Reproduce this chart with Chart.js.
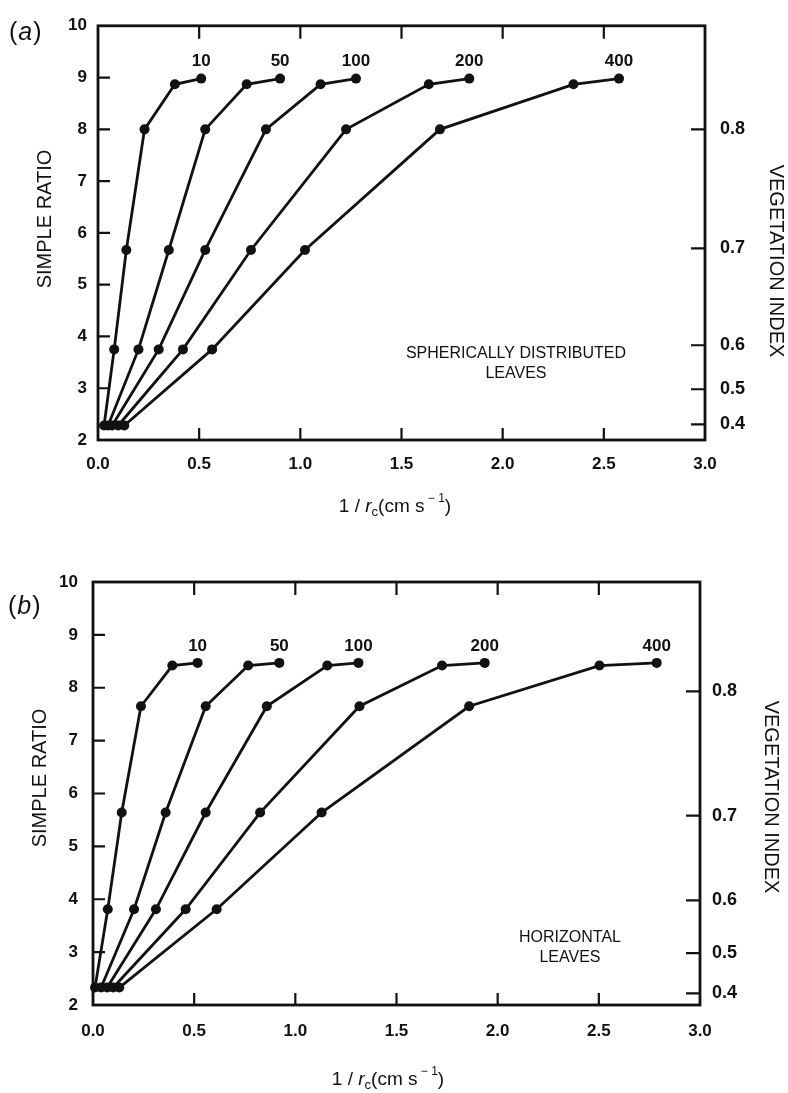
<!DOCTYPE html>
<html lang="en">
<head>
<meta charset="UTF-8" />
<title>Simple ratio vs 1/rc</title>
<script src="https://cdn.jsdelivr.net/npm/chart.js@4"></script>
<style>
  body { margin: 0; background: #fff; width: 788px; height: 1093px; position: relative; overflow: hidden; }
  canvas { position: absolute; left: 0; }
  #panelA { top: 0; }
  #panelB { top: 540px; }
</style>
</head>
<body>
<canvas id="panelA" width="788" height="540"></canvas>
<canvas id="panelB" width="788" height="553"></canvas>
<script>
// ---- data ----
const seriesNames = ['10', '50', '100', '200', '400'];
const xTicks = [0, 0.5, 1.0, 1.5, 2.0, 2.5, 3.0];
const srTicks = [2, 3, 4, 5, 6, 7, 8, 9, 10];
const viLabels = ['0.4', '0.5', '0.6', '0.7', '0.8'];
const viPosA = [2.30, 2.98, 3.83, 5.70, 8.0];   // where the VI ticks sit on the SR scale
const viPosB = [2.22, 2.98, 3.98, 5.58, 7.93];

// (a) spherically distributed leaves
const sphY   = [2.28, 3.75, 5.67, 8.0, 8.87, 8.98];
const sph10  = [0.03, 0.08, 0.14, 0.23, 0.38, 0.51];
const sph50  = [0.05, 0.20, 0.35, 0.53, 0.735, 0.90];
const sph100 = [0.07, 0.30, 0.53, 0.83, 1.10, 1.275];
const sph200 = [0.10, 0.42, 0.756, 1.226, 1.635, 1.835];
const sph400 = [0.13, 0.564, 1.023, 1.69, 2.35, 2.575];

// (b) horizontal leaves
const horY   = [2.33, 3.81, 5.64, 7.65, 8.42, 8.47];
const hor10  = [0.01, 0.073, 0.142, 0.237, 0.392, 0.517];
const hor50  = [0.04, 0.203, 0.359, 0.557, 0.767, 0.921];
const hor100 = [0.07, 0.311, 0.557, 0.859, 1.158, 1.312];
const hor200 = [0.10, 0.458, 0.826, 1.317, 1.725, 1.936];
const hor400 = [0.13, 0.611, 1.130, 1.859, 2.503, 2.786];

const ink = '#111';
const FONT = "'Liberation Sans', Arial, Helvetica, sans-serif";

// draws frame, inward ticks, curve labels, titles
const decor = {
  id: 'decor',
  afterDraw(chart, args, o) {
    const ctx = chart.ctx, ca = chart.chartArea;
    const sx = chart.scales.x, sy = chart.scales.y, sv = chart.scales.vi;
    ctx.save();
    ctx.strokeStyle = ink;
    ctx.fillStyle = ink;
    ctx.lineWidth = 2.8;
    ctx.strokeRect(ca.left, ca.top, ca.width, ca.height);

    ctx.lineWidth = 2.2;
    ctx.beginPath();
    xTicks.slice(1, -1).forEach(v => {
      const px = sx.getPixelForValue(v);
      ctx.moveTo(px, ca.bottom); ctx.lineTo(px, ca.bottom - 12);
      ctx.moveTo(px, ca.top); ctx.lineTo(px, ca.top + 13);
    });
    srTicks.slice(1, -1).forEach(v => {
      const py = sy.getPixelForValue(v);
      ctx.moveTo(ca.left, py); ctx.lineTo(ca.left + 12, py);
    });
    o.viPos.forEach(v => {
      const py = sv.getPixelForValue(v);
      ctx.moveTo(ca.right, py); ctx.lineTo(ca.right - 14, py);
    });
    ctx.stroke();

    // curve labels above last point
    ctx.font = 'bold 17px ' + FONT;
    ctx.textAlign = 'center';
    ctx.textBaseline = 'middle';
    chart.data.datasets.forEach((ds, i) => {
      const pts = chart.getDatasetMeta(i).data;
      const p = pts[pts.length - 1];
      ctx.fillText(ds.label, p.x, p.y - 17);
    });

    // annotation
    ctx.font = '16px ' + FONT;
    o.note.forEach((t, i) => ctx.fillText(t, o.noteX, o.noteY + i * 20));

    // axis titles
    ctx.font = '20px ' + FONT;
    ctx.save();
    ctx.translate(o.srX, o.srY); ctx.rotate(-Math.PI / 2);
    ctx.fillText('SIMPLE RATIO', 0, 0);
    ctx.restore();
    ctx.save();
    ctx.translate(o.viX, o.viY); ctx.rotate(Math.PI / 2);
    ctx.fillText('VEGETATION INDEX', 0, 0);
    ctx.restore();

    // 1/r_c (cm s^-1)
    const parts = [
      { t: '1 / ', f: '19px ', dy: 0 },
      { t: 'r', f: 'italic 19px ', dy: 0 },
      { t: 'c', f: '13px ', dy: 5 },
      { t: '(cm s', f: '19px ', dy: 0 },
      { t: ' \u2212 1', f: '12px ', dy: -8 },
      { t: ')', f: '19px ', dy: 0 }
    ];
    let w = 0;
    parts.forEach(p => { ctx.font = p.f + FONT; w += ctx.measureText(p.t).width; });
    let x = o.xtX - w / 2;
    ctx.textAlign = 'left';
    parts.forEach(p => {
      ctx.font = p.f + FONT;
      ctx.fillText(p.t, x, o.xtY + p.dy);
      x += ctx.measureText(p.t).width;
    });

    // panel tag
    ctx.font = '25px ' + FONT;
    let tx = o.tagX;
    ctx.fillText('(', tx, o.tagY); tx += ctx.measureText('(').width + 1;
    ctx.font = 'italic 25px ' + FONT;
    ctx.fillText(o.tag, tx, o.tagY); tx += ctx.measureText(o.tag).width + 1;
    ctx.font = '25px ' + FONT;
    ctx.fillText(')', tx, o.tagY);
    ctx.restore();
  }
};

function makeSets(xsList, ys) {
  return xsList.map((xs, k) => ({
    label: seriesNames[k],
    data: xs.map((x, i) => ({ x: x, y: ys[i] })),
    showLine: true,
    borderColor: ink,
    backgroundColor: ink,
    borderWidth: 2.8,
    pointRadius: 5,
    pointHoverRadius: 5,
    pointBorderWidth: 0,
    clip: false
  }));
}

function makePanel(id, sets, L) {
  const tickFont = { family: FONT, size: 17, weight: 'bold' };
  return new Chart(document.getElementById(id), {
    type: 'scatter',
    data: { datasets: sets },
    plugins: [decor],
    options: {
      responsive: false,
      animation: false,
      layout: { padding: { top: L.padTop, left: 0, right: 0, bottom: 0 } },
      plugins: { legend: { display: false }, tooltip: { enabled: false }, decor: L },
      scales: {
        x: {
          type: 'linear', min: 0, max: 3,
          afterBuildTicks: s => { s.ticks = xTicks.map(v => ({ value: v })); },
          ticks: { autoSkip: false, maxRotation: 0, padding: L.xPad, color: ink, font: tickFont,
                   callback: v => v.toFixed(1) },
          grid: { display: false, drawTicks: false },
          border: { display: false },
          afterFit: s => { s.height = L.xH; }
        },
        y: {
          type: 'linear', position: 'left', min: 2, max: 10,
          afterBuildTicks: s => { s.ticks = srTicks.map(v => ({ value: v })); },
          ticks: { padding: L.leftPad, color: ink, font: tickFont, callback: v => String(v) },
          grid: { display: false, drawTicks: false },
          border: { display: false },
          afterFit: s => { s.width = L.leftW; }
        },
        vi: {
          type: 'linear', position: 'right', min: 2, max: 10,
          afterBuildTicks: s => { s.ticks = L.viPos.map(v => ({ value: v })); },
          ticks: { padding: L.rightPad, color: ink, font: { family: FONT, size: 18, weight: 'bold' },
                   callback: (v, i) => viLabels[i] },
          grid: { display: false, drawTicks: false },
          border: { display: false },
          afterFit: s => { s.width = L.rightW; }
        }
      }
    }
  });
}

makePanel('panelA', makeSets([sph10, sph50, sph100, sph200, sph400], sphY), {
  padTop: 15, leftW: 98, rightW: 83, xH: 100, leftPad: 11, rightPad: 15, xPad: 14,
  viPos: viPosA,
  srX: 45, srY: 219, viX: 776, viY: 261, xtX: 395, xtY: 507,
  tag: 'a', tagX: 9, tagY: 33,
  note: ['SPHERICALLY DISTRIBUTED', 'LEAVES'], noteX: 516, noteY: 354
});

makePanel('panelB', makeSets([hor10, hor50, hor100, hor200, hor400], horY), {
  padTop: 42, leftW: 93, rightW: 88, xH: 88, leftPad: 15, rightPad: 12, xPad: 16,
  viPos: viPosB,
  srX: 40, srY: 238, viX: 771, viY: 257, xtX: 388, xtY: 540,
  tag: 'b', tagX: 8, tagY: 67,
  note: ['HORIZONTAL', 'LEAVES'], noteX: 570, noteY: 398
});
</script>
</body>
</html>
